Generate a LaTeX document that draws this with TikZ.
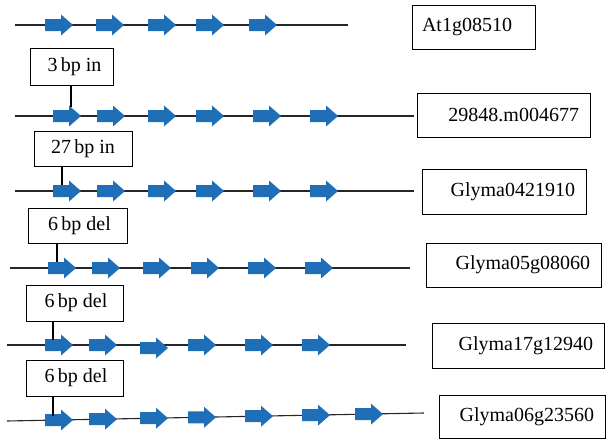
\documentclass[tikz,border=0pt]{standalone}
\usepackage{fontspec}
\setmainfont{Liberation Serif}
\usepackage{tikz}

\definecolor{exonblue}{RGB}{30,110,184}
\tikzset{
  gene/.style={draw, line width=0.9pt, minimum height=44pt, inner ysep=0pt, inner xsep=11pt, align=right, font=\fontsize{20}{24}\selectfont},
  mutbox/.style={draw, line width=0.9pt, minimum height=36pt, inner sep=0pt, font=\fontsize{20}{24}\selectfont},
  backbone/.style={line width=1.1pt, black!85},
  stem/.style={line width=1.1pt}
}
\newcommand{\exon}[2]{\fill[exonblue] (#1,#2) ++(0,-6) -- ++(16,0) -- ++(0,-4.5) -- ++(12,10.5) -- ++(-12,10.5) -- ++(0,-4.5) -- ++(-16,0) -- cycle;}

\begin{document}
\begin{tikzpicture}[x=1pt, y=-1pt]
\useasboundingbox (0,0) rectangle (606,439);

\coordinate (l1) at (15,25); \coordinate (r1) at (348,25);
\node[gene, align=left, inner xsep=10pt, text width=103pt] (g1) at (473.5,27) {At1g08510};
\draw[backbone] (l1) -- (r1);
\exon{45}{25} \exon{96}{25} \exon{148}{25} \exon{196}{25} \exon{249}{25}

\coordinate (l2) at (15,116); \coordinate (r2) at (414,116); \coordinate (s2) at (71,107);
\node[gene, text width=151pt] (g2) at (503.5,115) {29848.m004677};
\node[mutbox, minimum width=83pt, minimum height=37pt] (m2) at (71.5,66.5) {\hspace*{6pt}3\,bp in};
\draw[backbone] (l2) -- (r2);
\exon{53}{116} \exon{97}{116} \exon{148}{116} \exon{196}{116} \exon{253}{116} \exon{310}{116}
\draw[stem] (m2.south -| s2) -- (s2);

\coordinate (l3) at (15,191); \coordinate (r3) at (414,191); \coordinate (s3) at (62,185);
\node[gene, text width=142pt, minimum height=45pt] (g3) at (504,191.5) {Glyma0421910};
\node[mutbox, minimum width=98pt, minimum height=35pt] (m3) at (83,148.5) {27\,bp in};
\draw[backbone] (l3) -- (r3);
\exon{53}{191} \exon{97}{191} \exon{148}{191} \exon{196}{191} \exon{253}{191} \exon{310}{191}
\draw[stem] (m3.south -| s3) -- (s3);

\coordinate (l4) at (10,268); \coordinate (r4) at (410,268); \coordinate (s4) at (57,262);
\node[gene, text width=153pt] (g4) at (513.5,265) {Glyma05g08060};
\node[mutbox, minimum width=99pt, minimum height=35pt] (m4) at (77.5,225.5) {\hspace*{4pt}6\,bp del};
\draw[backbone] (l4) -- (r4);
\exon{48}{268} \exon{92}{268} \exon{143}{268} \exon{191}{268} \exon{248}{268} \exon{305}{268}
\draw[stem] (m4.south -| s4) -- (s4);

\coordinate (l5) at (7,345); \coordinate (r5) at (406,345); \coordinate (s5) at (53,340);
\node[gene, text width=150pt, minimum height=45pt] (g5) at (518,345.5) {Glyma17g12940};
\node[mutbox, minimum width=97pt] (m5) at (74.5,303) {\hspace*{3pt}6\,bp del};
\draw[backbone] (l5) -- (r5);
\exon{45}{345} \exon{89}{345} \exon{140}{348} \exon{188}{345} \exon{245}{345} \exon{302}{345}
\draw[stem] (m5.south -| s5) -- (s5);

\coordinate (l6) at (7,421); \coordinate (r6) at (424,413); \coordinate (s6) at (53,416);
\node[gene, text width=144pt, minimum height=43pt] (g6) at (522,416.5) {Glyma06g23560};
\node[mutbox, minimum width=97pt] (m6) at (74.5,378) {\hspace*{3pt}6\,bp del};
\draw[backbone] (l6) -- (r6);
\exon{45}{420} \exon{89}{419.2} \exon{140}{418.2} \exon{188}{417.3} \exon{245}{416.2} \exon{302}{415.1} \exon{355}{414.1}
\draw[stem] (m6.south -| s6) -- (s6);

\end{tikzpicture}
\end{document}
